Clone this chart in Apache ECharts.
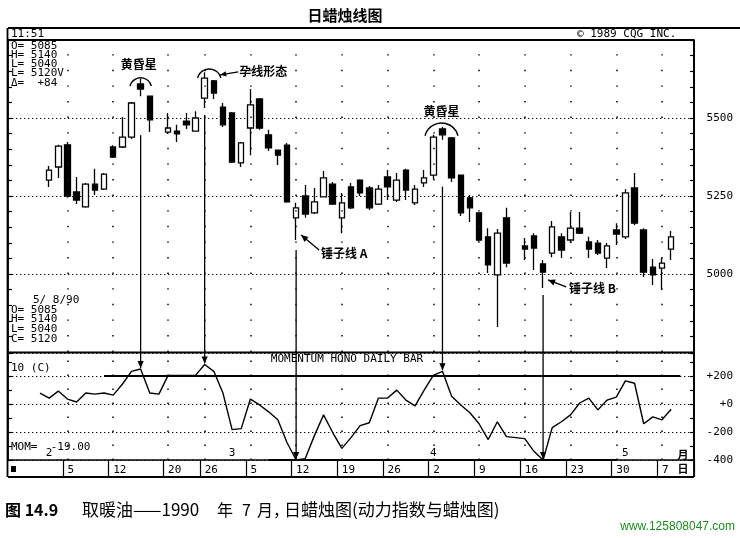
<!DOCTYPE html>
<html>
<head>
<meta charset="utf-8">
<style>
html,body{margin:0;padding:0;background:#fff;}
#c{width:740px;height:538px;}
</style>
<script src="https://cdn.jsdelivr.net/npm/echarts@6/dist/echarts.min.js"></script>
</head>
<body>
<div id="c"></div>
<script>
// ---------- data ----------
const dates = ['1/26','1/29','1/30','1/31',
  '2/1','2/2','2/5','2/6','2/7','2/8','2/9','2/12','2/13','2/14','2/15','2/16',
  '2/19','2/20','2/21','2/22','2/23','2/26','2/27','2/28','3/1','3/2',
  '3/5','3/6','3/7','3/8','3/9','3/12','3/13','3/14','3/15','3/16',
  '3/19','3/20','3/21','3/22','3/23','3/26','3/27','3/28','3/29','3/30',
  '4/2','4/3','4/4','4/5','4/6','4/9','4/10','4/11','4/12','4/13',
  '4/16','4/17','4/18','4/19','4/20','4/23','4/24','4/25','4/26','4/27',
  '4/30','5/1','5/2','5/3','5/4','5/7','5/8','5/9','5/10'];

const weekStarts = ['2/5','2/12','2/20','2/26','3/5','3/12','3/19','3/26','4/2','4/9','4/16','4/23','4/30','5/7'];
const monthStarts = ['2/1','3/1','4/2','5/1'];
const monthLabels = ['2','3','4','5'];

const opens = [null,null,null,null,
  5301,5343,5414,5263,5215,5288,5272,5407,5407,5439,
  5609,5570,null,5455,5458,5490,5458,5564,5619,5535,
  5516,5356,5468,5561,5446,5397,5413,5180,5250,5196,
  5247,5288,5180,5279,5301,5276,5224,5311,5237,5333,
  5228,5292,5317,5465,5436,5317,5244,5196,5119,4997,
  5180,null,5090,5122,5032,5067,5119,5109,5147,5103,
  5099,5051,5141,5119,5276,5141,5022,5019,5080,
  null,null];
const highs = [null,null,null,null,
  5346,5414,5423,5311,5292,5337,5324,5413,5503,5551,
  5625,5570,null,5516,5478,5516,5522,5647,5622,5548,
  5519,5423,5593,5564,5462,5397,5420,5228,5285,5276,
  5330,5295,5260,5292,5304,5282,5285,5333,5324,5337,
  5285,5333,5446,5471,5439,5317,5253,5196,5147,5144,
  5212,null,5115,5131,5045,5170,5131,5199,5199,5119,
  5109,5099,5163,5272,5324,5147,5048,5051,5138,
  null,null];
const lows = [null,null,null,null,
  5279,5308,5244,5224,5212,5253,5269,5372,5404,5433,
  5570,5455,null,5449,5423,5465,5458,5532,5561,5471,
  5356,5343,5381,5462,5394,5349,5228,5109,5180,5192,
  5247,5221,5131,5208,5250,5205,5221,5237,5231,5237,
  5221,5279,5304,5430,5295,5186,5167,5103,5003,4830,
  5022,null,5045,5013,4955,5054,5051,5099,5128,5051,
  5061,5019,5093,5112,5157,4990,4965,4949,5045,
  null,null];
const closes = [null,null,null,null,
  5333,5410,5250,5237,5288,5269,5320,5375,5439,5548,
  5593,5494,null,5468,5449,5478,5500,5628,5580,5478,
  5359,5420,5542,5468,5404,5381,5231,5212,5192,5231,
  5308,5224,5228,5212,5260,5212,5272,5279,5301,5269,
  5272,5308,5439,5446,5308,5196,5212,5109,5029,5131,
  5035,null,5080,5083,5006,5151,5077,5147,5131,5080,
  5067,5090,5128,5260,5163,5006,4997,5035,5119,
  null,null];

const momentum = [null,null,null,78,
  42,92,35,14,78,70,78,63,141,233,
  250,78,70,204,204,204,204,282,233,78,
  -183,-176,35,-7,-56,-113,-275,-400,-390,-226,
  -78,-204,-317,-240,-155,-134,42,42,99,28,
  -14,99,204,233,56,-7,-63,-141,-254,-127,
  -233,-240,-247,-338,-400,-169,-127,-78,7,42,
  -42,28,49,165,148,-141,-92,-113,-38,
  null,null];

const priceTicks = [5000, 5250, 5500];
const upperBand = 200, lowerBand = -400;
const upperBandRange = ['2/9','5/9'];
const lowerBandRange = ['3/7','4/30'];

// annotation anchors (date, value)
const arrowLinks = [
  {date:'2/15', fromPrice:5445, toMom:250},
  {date:'2/26', fromPrice:5510, toMom:282},
  {date:'3/12', fromPrice:5077, toMom:-400},
  {date:'4/3',  fromPrice:5280, toMom:233},
  {date:'4/18', fromPrice:4933, toMom:-400}
];

// ---------- build ----------
const MONO = "'DejaVu Sans Mono', monospace";
const CJK = "'Noto Sans CJK SC', sans-serif";

const candleData = dates.map((d,k) => opens[k] == null ? '-' :
  [opens[k], closes[k], lows[k], highs[k]]);

const isWeek = (idx, val) => weekStarts.indexOf(val) >= 0;
const isMonth = (idx, val) => monthStarts.indexOf(val) >= 0;

const dotLine = (d, period) => ({xAxis: d, lineStyle:{type:[1.4, period-1.4], width:1.6, color:'#111'}});

const option = {
  animation: false,
  backgroundColor: '#fff',
  grid: [
    {left: 8, right: 46, top: 40, height: 312},
    {left: 8, right: 46, top: 353, height: 107}
  ],
  xAxis: [
    {type:'category', gridIndex:0, data:dates, boundaryGap:true,
     axisLine:{show:false, onZero:false}, axisTick:{show:false}, axisLabel:{show:false}, splitLine:{show:false}},
    {type:'category', gridIndex:1, data:dates, boundaryGap:true, position:'bottom',
     axisLine:{show:true, onZero:false, lineStyle:{color:'#000', width:1.6}},
     axisTick:{show:true, interval:isWeek, length:17, lineStyle:{color:'#000', width:1.2}},
     axisLabel:{show:true, interval:isWeek, formatter:v => v.split('/')[1], align:'left',
       color:'#000', fontFamily:MONO, fontSize:11, margin:5},
     splitLine:{show:false}},
    {type:'category', gridIndex:1, data:dates, boundaryGap:true, position:'bottom', offset:0,
     axisLine:{show:false, onZero:false}, axisTick:{show:false}, splitLine:{show:false},
     axisLabel:{show:true, inside:true, interval:isMonth, margin:1,
       formatter:v => monthLabels[monthStarts.indexOf(v)],
       color:'#000', fontFamily:MONO, fontSize:11}}
  ],
  yAxis: [
    {type:'value', gridIndex:0, position:'right', min:4750, max:5750, interval:250,
     axisLine:{show:true, lineStyle:{color:'#000', width:1.8}},
     axisTick:{show:true, inside:true, length:4, lineStyle:{color:'#000', width:1.2}},
     minorTick:{show:true, splitNumber:5, length:4, lineStyle:{color:'#000', width:1.2}},
     axisLabel:{show:true, showMinLabel:false, showMaxLabel:false, align:'right', margin:39,
       formatter:v => priceTicks.indexOf(v) >= 0 ? String(v) : '',
       color:'#000', fontFamily:MONO, fontSize:11},
     splitLine:{show:true, lineStyle:{color:'#111', type:[1.4,2.6], width:1.2}}},
    {type:'value', gridIndex:0, position:'left', min:4750, max:5750, interval:250,
     axisLine:{show:true, lineStyle:{color:'#000', width:1.8}},
     axisTick:{show:true, inside:true, length:4, lineStyle:{color:'#000', width:1.2}},
     minorTick:{show:true, splitNumber:5, length:4, lineStyle:{color:'#000', width:1.2}},
     axisLabel:{show:false}, splitLine:{show:false}},
    {type:'value', gridIndex:1, position:'right', min:-400, max:364, interval:200,
     axisLine:{show:true, lineStyle:{color:'#000', width:1.8}},
     axisTick:{show:true, inside:true, length:4, lineStyle:{color:'#000', width:1.2}},
     minorTick:{show:true, splitNumber:2, length:4, lineStyle:{color:'#000', width:1.2}},
     axisLabel:{show:true, showMaxLabel:false, align:'right', margin:39,
       formatter:v => v > 0 ? '+' + v : (v === 0 ? '+0' : String(v)),
       color:'#000', fontFamily:MONO, fontSize:11},
     splitLine:{show:true, lineStyle:{color:'#111', type:[1.4,2.6], width:1.2}}},
    {type:'value', gridIndex:1, position:'left', min:-400, max:364, interval:200,
     axisLine:{show:true, lineStyle:{color:'#000', width:1.8}},
     axisTick:{show:true, inside:true, length:4, lineStyle:{color:'#000', width:1.2}},
     minorTick:{show:true, splitNumber:2, length:4, lineStyle:{color:'#000', width:1.2}},
     axisLabel:{show:false}, splitLine:{show:false}}
  ],
  series: [
    {type:'candlestick', name:'price', xAxisIndex:0, yAxisIndex:0, data:candleData,
     barWidth:6,
     itemStyle:{color:'#fff', color0:'#000', borderColor:'#000', borderColor0:'#000', borderWidth:1.3},
     markLine:{silent:true, symbol:['none','none'], label:{show:false}, animation:false,
       data: weekStarts.map(d => dotLine(d, 15.6))}},
    {type:'line', name:'MOM', xAxisIndex:1, yAxisIndex:2, data:momentum,
     showSymbol:false, symbol:'none', connectNulls:false,
     lineStyle:{color:'#000', width:1.4},
     markLine:{silent:true, symbol:['none','none'], label:{show:false}, animation:false,
       data: weekStarts.map(d => dotLine(d, 14)).concat([
         [{coord:[upperBandRange[0], upperBand], lineStyle:{type:'solid', width:1.8, color:'#000'}},
          {coord:[upperBandRange[1], upperBand]}],
         [{coord:[lowerBandRange[0], lowerBand], lineStyle:{type:'solid', width:1.8, color:'#000'}},
          {coord:[lowerBandRange[1], lowerBand]}]
       ])}}
  ]
};

const chart = echarts.init(document.getElementById('c'), null, {renderer:'canvas'});
chart.setOption(option);

// ---------- annotations ----------
const idx = d => dates.indexOf(d);
const P = (d, v) => chart.convertToPixel({gridIndex:0}, [idx(d), v]);
const M = (d, v) => chart.convertToPixel({gridIndex:1}, [idx(d), v]);

const g = [];
const txt = (x, y, text, font, align, extra) => g.push(Object.assign({type:'text', x:x, y:y, silent:true,
  style:{text:text, font:font, fill:'#000', align:align || 'left', verticalAlign:'middle'}}, extra || {}));
const ln = (x1, y1, x2, y2, w) => g.push({type:'line', silent:true,
  shape:{x1:x1, y1:y1, x2:x2, y2:y2}, style:{stroke:'#000', lineWidth:w || 1.3}});
const head = (x1, y1, x2, y2, size) => {
  const a = Math.atan2(y2 - y1, x2 - x1), s = size || 7, h = s * 0.45;
  const bx = x2 - s * Math.cos(a), by = y2 - s * Math.sin(a);
  g.push({type:'polygon', silent:true, shape:{points:[[x2, y2],
    [bx + h * Math.sin(a), by - h * Math.cos(a)], [bx - h * Math.sin(a), by + h * Math.cos(a)]]},
    style:{fill:'#000'}});
};
const arrow = (x1, y1, x2, y2, s) => { ln(x1, y1, x2, y2, 1.3); head(x1, y1, x2, y2, s); };
const arc = (cx, cy, r) => g.push({type:'arc', silent:true,
  shape:{cx:cx, cy:cy, r:r, startAngle:Math.PI * 1.08, endAngle:Math.PI * 1.92, clockwise:true},
  style:{stroke:'#000', fill:null, lineWidth:1.4}});

// frame
ln(8, 28, 740, 28, 2);
ln(7.5, 28, 7.5, 477, 1.8);
ln(8, 40, 694, 40, 1.8);
ln(694, 40, 694, 477, 1.8);
ln(8, 352.5, 694, 352.5, 2);
ln(8, 477, 694, 477, 1.8);

// title & header
txt(345, 15, '日蜡烛线图', 'bold 15px ' + CJK, 'center');
txt(11, 34, '11:51', '11px ' + MONO);
txt(577, 34, '© 1989 CQG INC.', '11px ' + MONO);
const info1 = ['O= 5085', 'H= 5140', 'L= 5040', 'L= 5120V', 'Δ=  +84'];
info1.forEach((s, k) => txt(11, 46 + k * 9.2, s, '11px ' + MONO));
txt(33, 300, '5/ 8/90', '11px ' + MONO);
const info2 = ['O= 5085', 'H= 5140', 'L= 5040', 'C= 5120'];
info2.forEach((s, k) => txt(11, 310 + k * 9.6, s, '11px ' + MONO));

// momentum panel texts
txt(347, 359, 'MOMENTUM HONO DAILY BAR', '11px ' + MONO, 'center');
txt(11, 368, '10 (C)', '11px ' + MONO);
txt(11, 447, 'MOM=  -19.00', '11px ' + MONO);
txt(683, 455, '月', 'bold 11px ' + CJK, 'center');
txt(683, 469, '日', 'bold 11px ' + CJK, 'center');
g.push({type:'rect', silent:true, shape:{x:11, y:466, width:5, height:6}, style:{fill:'#000'}});

// vertical link arrows
arrowLinks.forEach(a => {
  const p = P(a.date, a.fromPrice), q = M(a.date, a.toMom);
  arrow(p[0], p[1], p[0], q[1] - 1, 7);
});

// evening star 1
let c1 = P('2/15', 5600);
arc(c1[0], c1[1] + 2, 11);
let t1 = P('2/15', 5672);
txt(t1[0] - 2, t1[1], '黄昏星', 'bold 12px ' + CJK, 'center');

// harami
let h1 = P('2/26', 5625), h2 = P('2/27', 5625);
arc((h1[0] + h2[0]) / 2, h1[1] + 2, 12);
let ht = P('3/2', 5648);
txt(ht[0] - 2, ht[1], '孕线形态', 'bold 12px ' + CJK, 'left');
arrow(ht[0] - 3, ht[1], (h1[0] + h2[0]) / 2 + 11, ht[1] + 3, 6);

// evening star 2
let c2 = P('4/3', 5436);
arc(c2[0] - 1, c2[1] + 2, 17);
let t2 = P('4/3', 5522);
txt(t2[0] - 1, t2[1], '黄昏星', 'bold 12px ' + CJK, 'center');

// hammer A
let ha = P('3/12', 5125);
arrow(ha[0] + 23, ha[1] + 15, ha[0] + 5, ha[1], 7);
let hat = P('3/12', 5067);
txt(hat[0] + 25, hat[1], '锤子线 A', 'bold 12px ' + CJK, 'left');

// hammer B
let hb = P('4/18', 4981);
arrow(hb[0] + 23, hb[1] + 7, hb[0] + 5, hb[1], 7);
let hbt = P('4/18', 4955);
txt(hbt[0] + 26, hbt[1], '锤子线 B', 'bold 12px ' + CJK, 'left');

// caption (pieces spaced like the printed book line)
txt(5, 510, '图 14.9', 'bold 16px ' + CJK, 'left');
const capFont = '16px ' + CJK;
txt(82, 510, '取暖油——1990', '17px ' + CJK, 'left');
txt(217, 510, '年', capFont, 'left');
txt(242, 510, '7', capFont, 'left');
txt(257, 510, '月，', capFont, 'left');
txt(284, 510, '日蜡烛图(动力指数与蜡烛图)', '17px ' + CJK, 'left');
g.push({type:'text', x:735, y:527, silent:true,
  style:{text:'www.125808047.com', font:'12px Arial, "Liberation Sans", sans-serif', fill:'#1f8a1f', align:'right', verticalAlign:'middle'}});

chart.setOption({graphic: g});
</script>
</body>
</html>
